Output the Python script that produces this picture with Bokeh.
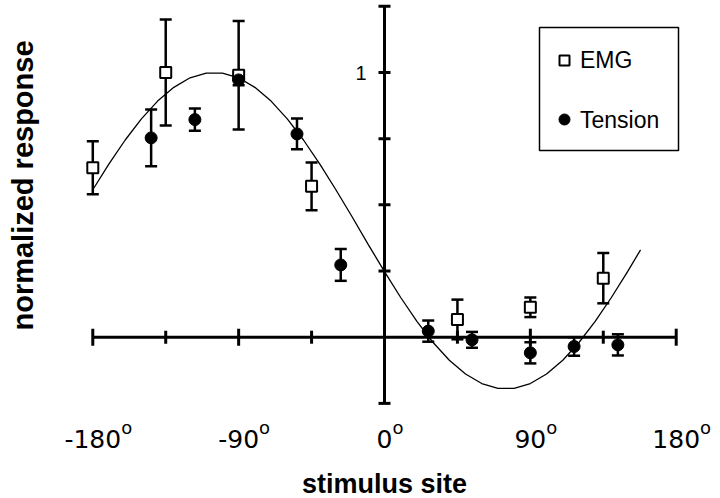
import math
from bokeh.plotting import figure
from bokeh.models import Range1d
from bokeh.embed import file_html
from bokeh.resources import INLINE
from bokeh.core.properties import value

# ---------------- data ----------------
emg_x = [-180, -135, -90, -45, 45, 90, 135]
emg_y = [0.64, 1.00, 0.99, 0.57, 0.067, 0.113, 0.223]
emg_err = [0.10, 0.20, 0.205, 0.09, 0.075, 0.037, 0.095]

tension_x = [-144, -117, -90, -54, -27, 27, 54, 90, 117, 144]
tension_y = [0.753, 0.822, 0.972, 0.768, 0.273, 0.023, -0.010, -0.059, -0.035, -0.029]
tension_err = [0.107, 0.042, 0.02, 0.058, 0.06, 0.04, 0.03, 0.04, 0.035, 0.04]

# fitted curve
curve_x = [-180, -170, -160, -150, -140, -130, -120, -110, -100, -90, -80, -70, -60,
           -50, -40, -30, -20, -10, 0, 10, 20, 30, 40, 50, 60, 70, 80, 90, 100,
           110, 120, 130, 140, 150, 158]
curve_y = [0.557, 0.655, 0.745, 0.825, 0.892, 0.944, 0.980, 0.998, 0.998, 0.980, 0.944,
           0.892, 0.825, 0.745, 0.655, 0.557, 0.455, 0.350, 0.248, 0.150, 0.060, -0.020,
           -0.087, -0.139, -0.175, -0.193, -0.193, -0.175, -0.139, -0.087, -0.020, 0.060,
           0.150, 0.248, 0.330]

x_tick_major = [-180, -90, 90, 180]
x_tick_minor = [-135, -45, 45, 135]
x_label_vals = [-180, -90, 0, 90, 180]
x_labels = ["-180", "-90", "0", "90", "180"]
y_ticks = [-0.25, 0.25, 0.5, 0.75, 1.0, 1.25]
y_label_vals = [1.0]
y_labels = ["1"]

series_names = ["EMG", "Tension"]

# ---------------- layout ----------------
W, H = 720, 498
PX_DEG = 1.6206
PX_UNIT = 264.7
X0C = 384.0   # px of x = 0
Y0C = 336.7   # px of y = 0

x_start, x_end = -X0C / PX_DEG, (W - X0C) / PX_DEG
y_end, y_start = Y0C / PX_UNIT, -(H - Y0C) / PX_UNIT


def dx(px):
    return px / PX_DEG


def dy(px):
    return px / PX_UNIT


def page_x(px):
    return (px - X0C) / PX_DEG


def page_y(py):
    return (Y0C - py) / PX_UNIT


FONT = value("Liberation Sans")
TICK_FONT = value("DejaVu Sans")

p = figure(width=W, height=H, x_range=Range1d(x_start, x_end),
           y_range=Range1d(y_start, y_end), x_axis_type=None, y_axis_type=None,
           toolbar_location=None, output_backend="svg", min_border=0,
           outline_line_color=None)
p.background_fill_color = "white"

# curve
p.line(curve_x, curve_y, line_color="black", line_width=1.3)

# axes
p.segment(x0=[-180], y0=[0], x1=[180], y1=[0], line_color="black", line_width=3)
p.segment(x0=[0], y0=[y_ticks[0]], x1=[0], y1=[y_ticks[-1]], line_color="black", line_width=3)
p.segment(x0=x_tick_major, y0=[dy(8.5)] * 4, x1=x_tick_major, y1=[-dy(8.5)] * 4,
          line_color="black", line_width=3)
p.segment(x0=x_tick_minor, y0=[dy(6.5)] * 4, x1=x_tick_minor, y1=[-dy(6.5)] * 4,
          line_color="black", line_width=3)
p.segment(x0=[-dx(6)] * len(y_ticks), y0=y_ticks, x1=[dx(6)] * len(y_ticks), y1=y_ticks,
          line_color="black", line_width=3)


# error bars
def errorbars(xs, ys, es):
    lo = [y - e for y, e in zip(ys, es)]
    hi = [y + e for y, e in zip(ys, es)]
    p.segment(x0=xs, y0=lo, x1=xs, y1=hi, line_color="black", line_width=2.5)
    cx0 = [x - dx(6) for x in xs]
    cx1 = [x + dx(6) for x in xs]
    p.segment(x0=cx0 + cx0, y0=lo + hi, x1=cx1 + cx1, y1=lo + hi,
              line_color="black", line_width=2.5)


errorbars(emg_x, emg_y, emg_err)
errorbars(tension_x, tension_y, tension_err)

p.scatter(emg_x, emg_y, marker="square", size=11, fill_color="white",
          line_color="black", line_width=2)
p.scatter(tension_x, tension_y, marker="circle", size=12, fill_color="black",
          line_color="black", line_width=1)

# tick labels
CW = {"-": 0.361}
tick_fs = 25
p.text(x=x_label_vals, y=[page_y(438.5)] * len(x_labels), text=x_labels,
       text_font=TICK_FONT, text_font_size=f"{tick_fs}px", text_align="center",
       text_baseline="middle", text_color="black")
o_x = [v + dx(sum(CW.get(c, 0.636) for c in s) * tick_fs / 2)
       for v, s in zip(x_label_vals, x_labels)]
p.text(x=o_x, y=[page_y(426.5)] * len(x_labels), text=["o"] * len(x_labels),
       text_font=TICK_FONT, text_font_size="18px", text_align="left",
       text_baseline="middle", text_color="black")
p.text(x=[page_x(366)], y=y_label_vals, text=y_labels, text_font=FONT,
       text_font_size="20px", text_align="right", text_baseline="middle",
       text_color="black")

# axis titles
p.text(x=[0], y=[page_y(483.0)], text=["stimulus site"], text_font=FONT,
       text_font_size="27px", text_font_style="bold", text_align="center",
       text_baseline="middle", text_color="black")
p.text(x=[page_x(22.6)], y=[page_y(185)], text=["normalized response"], text_font=FONT,
       text_font_size="29px", text_font_style="bold", text_align="center",
       text_baseline="middle", angle=math.pi / 2, text_color="black")

# legend
p.quad(left=[page_x(539)], right=[page_x(678)], top=[page_y(27)], bottom=[page_y(150)],
       fill_color="white", line_color="black", line_width=1.5)
p.scatter([page_x(564)], [page_y(60)], marker="square", size=10, fill_color="white",
          line_color="black", line_width=2)
p.scatter([page_x(564)], [page_y(119)], marker="circle", size=11, fill_color="black",
          line_color="black")
p.text(x=[page_x(579.5)] * 2, y=[page_y(59.7), page_y(119)], text=series_names,
       text_font=FONT, text_font_size="23px", text_align="left",
       text_baseline="middle", text_color="black")

open("out.html", "w").write(file_html(p, INLINE))
